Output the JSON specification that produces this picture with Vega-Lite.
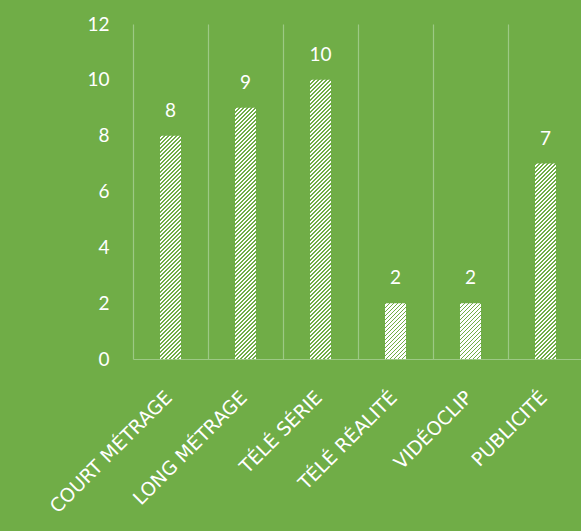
{
  "$schema": "https://vega.github.io/schema/vega-lite/v6.json",
  "autosize": "none",
  "padding": {"left": 133, "top": 24, "right": 0, "bottom": 172},
  "width": 448,
  "height": 335,
  "background": "#70AD47",
  "params": [
    {"name": "hs", "value": [
{"offset":0,"color":"#70AD47"},{"offset":0.0037,"color":"#70AD47"},{"offset":0.0037,"color":"#fff"},{"offset":0.01,"color":"#fff"},
{"offset":0.01,"color":"#70AD47"},{"offset":0.0137,"color":"#70AD47"},{"offset":0.0137,"color":"#fff"},{"offset":0.02,"color":"#fff"},
{"offset":0.02,"color":"#70AD47"},{"offset":0.0237,"color":"#70AD47"},{"offset":0.0237,"color":"#fff"},{"offset":0.03,"color":"#fff"},
{"offset":0.03,"color":"#70AD47"},{"offset":0.0337,"color":"#70AD47"},{"offset":0.0337,"color":"#fff"},{"offset":0.04,"color":"#fff"},
{"offset":0.04,"color":"#70AD47"},{"offset":0.0437,"color":"#70AD47"},{"offset":0.0437,"color":"#fff"},{"offset":0.05,"color":"#fff"},
{"offset":0.05,"color":"#70AD47"},{"offset":0.0537,"color":"#70AD47"},{"offset":0.0537,"color":"#fff"},{"offset":0.06,"color":"#fff"},
{"offset":0.06,"color":"#70AD47"},{"offset":0.0637,"color":"#70AD47"},{"offset":0.0637,"color":"#fff"},{"offset":0.07,"color":"#fff"},
{"offset":0.07,"color":"#70AD47"},{"offset":0.0737,"color":"#70AD47"},{"offset":0.0737,"color":"#fff"},{"offset":0.08,"color":"#fff"},
{"offset":0.08,"color":"#70AD47"},{"offset":0.0837,"color":"#70AD47"},{"offset":0.0837,"color":"#fff"},{"offset":0.09,"color":"#fff"},
{"offset":0.09,"color":"#70AD47"},{"offset":0.0937,"color":"#70AD47"},{"offset":0.0937,"color":"#fff"},{"offset":0.1,"color":"#fff"},
{"offset":0.1,"color":"#70AD47"},{"offset":0.1037,"color":"#70AD47"},{"offset":0.1037,"color":"#fff"},{"offset":0.11,"color":"#fff"},
{"offset":0.11,"color":"#70AD47"},{"offset":0.1137,"color":"#70AD47"},{"offset":0.1137,"color":"#fff"},{"offset":0.12,"color":"#fff"},
{"offset":0.12,"color":"#70AD47"},{"offset":0.1237,"color":"#70AD47"},{"offset":0.1237,"color":"#fff"},{"offset":0.13,"color":"#fff"},
{"offset":0.13,"color":"#70AD47"},{"offset":0.1337,"color":"#70AD47"},{"offset":0.1337,"color":"#fff"},{"offset":0.14,"color":"#fff"},
{"offset":0.14,"color":"#70AD47"},{"offset":0.1437,"color":"#70AD47"},{"offset":0.1437,"color":"#fff"},{"offset":0.15,"color":"#fff"},
{"offset":0.15,"color":"#70AD47"},{"offset":0.1537,"color":"#70AD47"},{"offset":0.1537,"color":"#fff"},{"offset":0.16,"color":"#fff"},
{"offset":0.16,"color":"#70AD47"},{"offset":0.1637,"color":"#70AD47"},{"offset":0.1637,"color":"#fff"},{"offset":0.17,"color":"#fff"},
{"offset":0.17,"color":"#70AD47"},{"offset":0.1737,"color":"#70AD47"},{"offset":0.1737,"color":"#fff"},{"offset":0.18,"color":"#fff"},
{"offset":0.18,"color":"#70AD47"},{"offset":0.1837,"color":"#70AD47"},{"offset":0.1837,"color":"#fff"},{"offset":0.19,"color":"#fff"},
{"offset":0.19,"color":"#70AD47"},{"offset":0.1937,"color":"#70AD47"},{"offset":0.1937,"color":"#fff"},{"offset":0.2,"color":"#fff"},
{"offset":0.2,"color":"#70AD47"},{"offset":0.2037,"color":"#70AD47"},{"offset":0.2037,"color":"#fff"},{"offset":0.21,"color":"#fff"},
{"offset":0.21,"color":"#70AD47"},{"offset":0.2137,"color":"#70AD47"},{"offset":0.2137,"color":"#fff"},{"offset":0.22,"color":"#fff"},
{"offset":0.22,"color":"#70AD47"},{"offset":0.2237,"color":"#70AD47"},{"offset":0.2237,"color":"#fff"},{"offset":0.23,"color":"#fff"},
{"offset":0.23,"color":"#70AD47"},{"offset":0.2337,"color":"#70AD47"},{"offset":0.2337,"color":"#fff"},{"offset":0.24,"color":"#fff"},
{"offset":0.24,"color":"#70AD47"},{"offset":0.2437,"color":"#70AD47"},{"offset":0.2437,"color":"#fff"},{"offset":0.25,"color":"#fff"},
{"offset":0.25,"color":"#70AD47"},{"offset":0.2537,"color":"#70AD47"},{"offset":0.2537,"color":"#fff"},{"offset":0.26,"color":"#fff"},
{"offset":0.26,"color":"#70AD47"},{"offset":0.2637,"color":"#70AD47"},{"offset":0.2637,"color":"#fff"},{"offset":0.27,"color":"#fff"},
{"offset":0.27,"color":"#70AD47"},{"offset":0.2737,"color":"#70AD47"},{"offset":0.2737,"color":"#fff"},{"offset":0.28,"color":"#fff"},
{"offset":0.28,"color":"#70AD47"},{"offset":0.2837,"color":"#70AD47"},{"offset":0.2837,"color":"#fff"},{"offset":0.29,"color":"#fff"},
{"offset":0.29,"color":"#70AD47"},{"offset":0.2937,"color":"#70AD47"},{"offset":0.2937,"color":"#fff"},{"offset":0.3,"color":"#fff"},
{"offset":0.3,"color":"#70AD47"},{"offset":0.3037,"color":"#70AD47"},{"offset":0.3037,"color":"#fff"},{"offset":0.31,"color":"#fff"},
{"offset":0.31,"color":"#70AD47"},{"offset":0.3137,"color":"#70AD47"},{"offset":0.3137,"color":"#fff"},{"offset":0.32,"color":"#fff"},
{"offset":0.32,"color":"#70AD47"},{"offset":0.3237,"color":"#70AD47"},{"offset":0.3237,"color":"#fff"},{"offset":0.33,"color":"#fff"},
{"offset":0.33,"color":"#70AD47"},{"offset":0.3337,"color":"#70AD47"},{"offset":0.3337,"color":"#fff"},{"offset":0.34,"color":"#fff"},
{"offset":0.34,"color":"#70AD47"},{"offset":0.3437,"color":"#70AD47"},{"offset":0.3437,"color":"#fff"},{"offset":0.35,"color":"#fff"},
{"offset":0.35,"color":"#70AD47"},{"offset":0.3537,"color":"#70AD47"},{"offset":0.3537,"color":"#fff"},{"offset":0.36,"color":"#fff"},
{"offset":0.36,"color":"#70AD47"},{"offset":0.3637,"color":"#70AD47"},{"offset":0.3637,"color":"#fff"},{"offset":0.37,"color":"#fff"},
{"offset":0.37,"color":"#70AD47"},{"offset":0.3737,"color":"#70AD47"},{"offset":0.3737,"color":"#fff"},{"offset":0.38,"color":"#fff"},
{"offset":0.38,"color":"#70AD47"},{"offset":0.3837,"color":"#70AD47"},{"offset":0.3837,"color":"#fff"},{"offset":0.39,"color":"#fff"},
{"offset":0.39,"color":"#70AD47"},{"offset":0.3937,"color":"#70AD47"},{"offset":0.3937,"color":"#fff"},{"offset":0.4,"color":"#fff"},
{"offset":0.4,"color":"#70AD47"},{"offset":0.4037,"color":"#70AD47"},{"offset":0.4037,"color":"#fff"},{"offset":0.41,"color":"#fff"},
{"offset":0.41,"color":"#70AD47"},{"offset":0.4137,"color":"#70AD47"},{"offset":0.4137,"color":"#fff"},{"offset":0.42,"color":"#fff"},
{"offset":0.42,"color":"#70AD47"},{"offset":0.4237,"color":"#70AD47"},{"offset":0.4237,"color":"#fff"},{"offset":0.43,"color":"#fff"},
{"offset":0.43,"color":"#70AD47"},{"offset":0.4337,"color":"#70AD47"},{"offset":0.4337,"color":"#fff"},{"offset":0.44,"color":"#fff"},
{"offset":0.44,"color":"#70AD47"},{"offset":0.4437,"color":"#70AD47"},{"offset":0.4437,"color":"#fff"},{"offset":0.45,"color":"#fff"},
{"offset":0.45,"color":"#70AD47"},{"offset":0.4537,"color":"#70AD47"},{"offset":0.4537,"color":"#fff"},{"offset":0.46,"color":"#fff"},
{"offset":0.46,"color":"#70AD47"},{"offset":0.4637,"color":"#70AD47"},{"offset":0.4637,"color":"#fff"},{"offset":0.47,"color":"#fff"},
{"offset":0.47,"color":"#70AD47"},{"offset":0.4737,"color":"#70AD47"},{"offset":0.4737,"color":"#fff"},{"offset":0.48,"color":"#fff"},
{"offset":0.48,"color":"#70AD47"},{"offset":0.4837,"color":"#70AD47"},{"offset":0.4837,"color":"#fff"},{"offset":0.49,"color":"#fff"},
{"offset":0.49,"color":"#70AD47"},{"offset":0.4937,"color":"#70AD47"},{"offset":0.4937,"color":"#fff"},{"offset":0.5,"color":"#fff"},
{"offset":0.5,"color":"#70AD47"},{"offset":0.5037,"color":"#70AD47"},{"offset":0.5037,"color":"#fff"},{"offset":0.51,"color":"#fff"},
{"offset":0.51,"color":"#70AD47"},{"offset":0.5137,"color":"#70AD47"},{"offset":0.5137,"color":"#fff"},{"offset":0.52,"color":"#fff"},
{"offset":0.52,"color":"#70AD47"},{"offset":0.5237,"color":"#70AD47"},{"offset":0.5237,"color":"#fff"},{"offset":0.53,"color":"#fff"},
{"offset":0.53,"color":"#70AD47"},{"offset":0.5337,"color":"#70AD47"},{"offset":0.5337,"color":"#fff"},{"offset":0.54,"color":"#fff"},
{"offset":0.54,"color":"#70AD47"},{"offset":0.5437,"color":"#70AD47"},{"offset":0.5437,"color":"#fff"},{"offset":0.55,"color":"#fff"},
{"offset":0.55,"color":"#70AD47"},{"offset":0.5537,"color":"#70AD47"},{"offset":0.5537,"color":"#fff"},{"offset":0.56,"color":"#fff"},
{"offset":0.56,"color":"#70AD47"},{"offset":0.5637,"color":"#70AD47"},{"offset":0.5637,"color":"#fff"},{"offset":0.57,"color":"#fff"},
{"offset":0.57,"color":"#70AD47"},{"offset":0.5737,"color":"#70AD47"},{"offset":0.5737,"color":"#fff"},{"offset":0.58,"color":"#fff"},
{"offset":0.58,"color":"#70AD47"},{"offset":0.5837,"color":"#70AD47"},{"offset":0.5837,"color":"#fff"},{"offset":0.59,"color":"#fff"},
{"offset":0.59,"color":"#70AD47"},{"offset":0.5937,"color":"#70AD47"},{"offset":0.5937,"color":"#fff"},{"offset":0.6,"color":"#fff"},
{"offset":0.6,"color":"#70AD47"},{"offset":0.6037,"color":"#70AD47"},{"offset":0.6037,"color":"#fff"},{"offset":0.61,"color":"#fff"},
{"offset":0.61,"color":"#70AD47"},{"offset":0.6137,"color":"#70AD47"},{"offset":0.6137,"color":"#fff"},{"offset":0.62,"color":"#fff"},
{"offset":0.62,"color":"#70AD47"},{"offset":0.6237,"color":"#70AD47"},{"offset":0.6237,"color":"#fff"},{"offset":0.63,"color":"#fff"},
{"offset":0.63,"color":"#70AD47"},{"offset":0.6337,"color":"#70AD47"},{"offset":0.6337,"color":"#fff"},{"offset":0.64,"color":"#fff"},
{"offset":0.64,"color":"#70AD47"},{"offset":0.6437,"color":"#70AD47"},{"offset":0.6437,"color":"#fff"},{"offset":0.65,"color":"#fff"},
{"offset":0.65,"color":"#70AD47"},{"offset":0.6537,"color":"#70AD47"},{"offset":0.6537,"color":"#fff"},{"offset":0.66,"color":"#fff"},
{"offset":0.66,"color":"#70AD47"},{"offset":0.6637,"color":"#70AD47"},{"offset":0.6637,"color":"#fff"},{"offset":0.67,"color":"#fff"},
{"offset":0.67,"color":"#70AD47"},{"offset":0.6737,"color":"#70AD47"},{"offset":0.6737,"color":"#fff"},{"offset":0.68,"color":"#fff"},
{"offset":0.68,"color":"#70AD47"},{"offset":0.6837,"color":"#70AD47"},{"offset":0.6837,"color":"#fff"},{"offset":0.69,"color":"#fff"},
{"offset":0.69,"color":"#70AD47"},{"offset":0.6937,"color":"#70AD47"},{"offset":0.6937,"color":"#fff"},{"offset":0.7,"color":"#fff"},
{"offset":0.7,"color":"#70AD47"},{"offset":0.7037,"color":"#70AD47"},{"offset":0.7037,"color":"#fff"},{"offset":0.71,"color":"#fff"},
{"offset":0.71,"color":"#70AD47"},{"offset":0.7137,"color":"#70AD47"},{"offset":0.7137,"color":"#fff"},{"offset":0.72,"color":"#fff"},
{"offset":0.72,"color":"#70AD47"},{"offset":0.7237,"color":"#70AD47"},{"offset":0.7237,"color":"#fff"},{"offset":0.73,"color":"#fff"},
{"offset":0.73,"color":"#70AD47"},{"offset":0.7337,"color":"#70AD47"},{"offset":0.7337,"color":"#fff"},{"offset":0.74,"color":"#fff"},
{"offset":0.74,"color":"#70AD47"},{"offset":0.7437,"color":"#70AD47"},{"offset":0.7437,"color":"#fff"},{"offset":0.75,"color":"#fff"},
{"offset":0.75,"color":"#70AD47"},{"offset":0.7537,"color":"#70AD47"},{"offset":0.7537,"color":"#fff"},{"offset":0.76,"color":"#fff"}
    ]}
  ],
  "data": {
    "values": [
      {"type": "COURT MÉTRAGE", "count": 8},
      {"type": "LONG MÉTRAGE", "count": 9},
      {"type": "TÉLÉ SÉRIE", "count": 10},
      {"type": "TÉLÉ RÉALITÉ", "count": 2},
      {"type": "VIDÉOCLIP", "count": 2},
      {"type": "PUBLICITÉ", "count": 7}
    ]
  },
  "encoding": {
    "x": {
      "field": "type",
      "type": "nominal",
      "sort": null,
      "scale": {"paddingInner": 0, "paddingOuter": 0, "range": [0, 450]},
      "axis": {
        "title": null,
        "labelAngle": -45,
        "labelAlign": "right",
        "labelBaseline": "middle",
        "labelPadding": 35,
        "labelOffset": -2,
        "labelColor": "#FFFFFF",
        "labelFont": "DejaVu Sans",
        "labelFontSize": 19,
        "labelLimit": 400,
        "ticks": false,
        "tickSize": 0,
        "tickBand": "extent",
        "grid": true,
        "gridColor": "#9DC985",
        "gridWidth": 1.2,
        "domainColor": "#9DC985",
        "domainWidth": 1.2
      }
    },
    "y": {
      "field": "count",
      "type": "quantitative",
      "scale": {"domain": [0, 12], "nice": false},
      "axis": {
        "title": null,
        "values": [0, 2, 4, 6, 8, 10, 12],
        "grid": false,
        "domain": false,
        "ticks": false,
        "tickSize": 0,
        "labelPadding": 24,
        "labelColor": "#FFFFFF",
        "labelFont": "Lato",
        "labelFontSize": 19,
        "labelFlush": false,
        "labelOverlap": false
      }
    }
  },
  "layer": [
    {
      "mark": {
        "type": "bar",
        "width": {"band": 0.28},
        "fill": {"expr": "{gradient: 'linear', x1: 0, y1: 0, x2: 400 * 21 / (pow(scale('y', 0) - scale('y', datum.count), 2) + 441), y2: 400 * (scale('y', 0) - scale('y', datum.count)) / (pow(scale('y', 0) - scale('y', datum.count), 2) + 441), stops: hs}"}
      }
    },
    {
      "mark": {
        "type": "text",
        "dy": -19,
        "baseline": "alphabetic",
        "color": "#FFFFFF",
        "font": "Lato",
        "fontSize": 19
      },
      "encoding": {"text": {"field": "count", "type": "quantitative"}}
    }
  ],
  "config": {"view": {"stroke": null}}
}
